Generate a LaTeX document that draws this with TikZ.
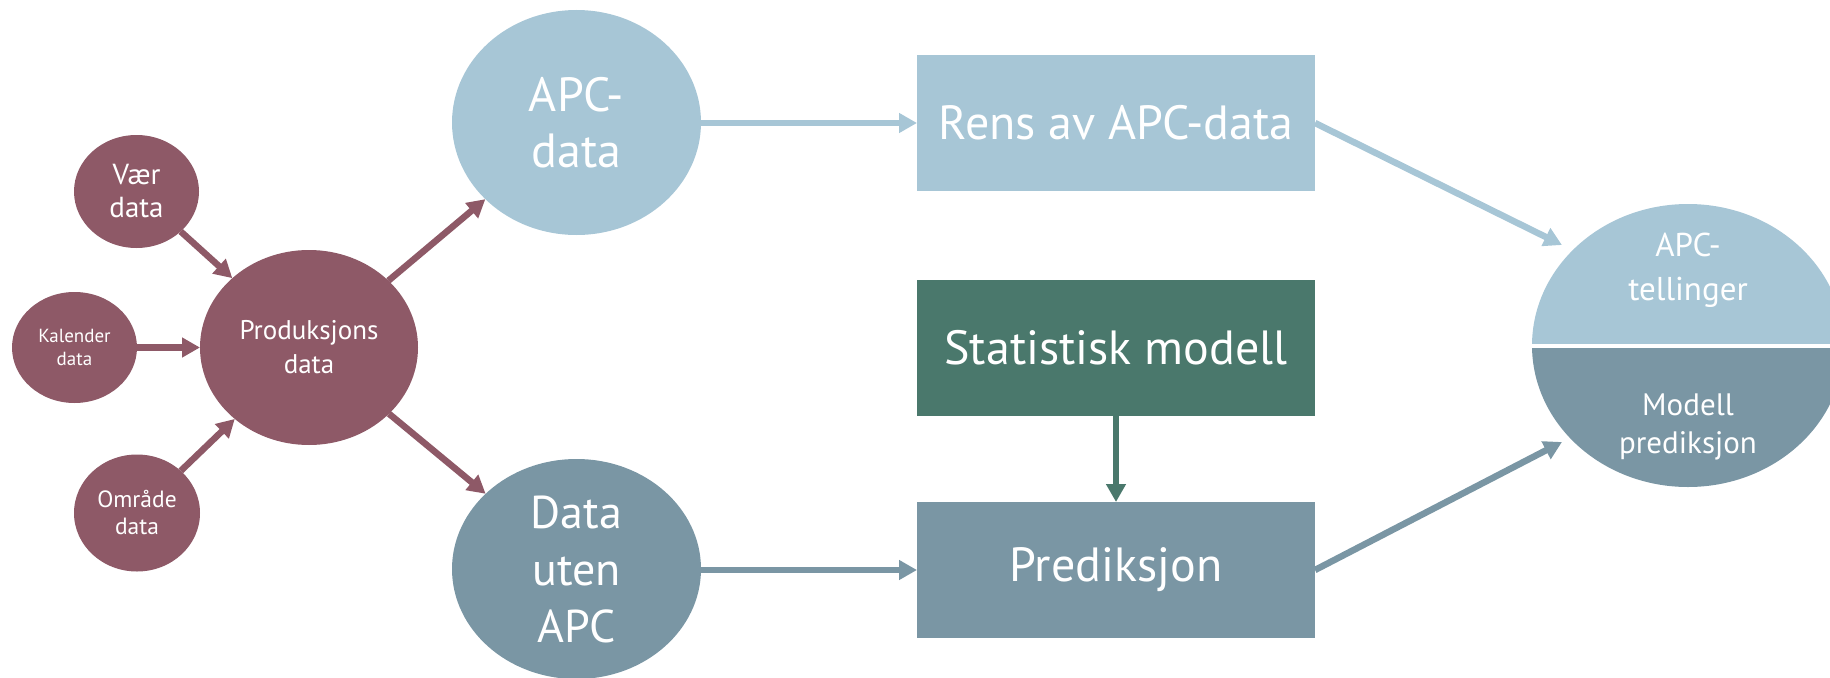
\documentclass[tikz,border=0pt]{standalone}
\usepackage{fontspec}
\setmainfont{PT Sans}
\usetikzlibrary{shapes.geometric,arrows.meta}
\definecolor{maroon}{HTML}{8E5967}
\definecolor{lblue}{HTML}{A7C6D6}
\definecolor{slate}{HTML}{7A96A4}
\definecolor{sgreen}{HTML}{4A786C}
\newcommand{\fsz}[2]{\fontsize{#1}{#2}\selectfont}
\begin{document}
\begin{tikzpicture}[x=1pt,y=-1pt,
  every node/.style={text=white, align=center, inner sep=0pt, outer sep=0pt},
  blob/.style={ellipse, fill=#1},
  boxnode/.style={rectangle, fill=#1, minimum width=398pt, minimum height=136pt, font=\fsz{48}{56}},
  conn/.style={draw=#1, line width=6.5pt, -{Triangle[length=18pt,width=19pt]}}]
\useasboundingbox (0,0) rectangle (1830,677);
\clip (0,0) rectangle (1830,677);

% left inputs
\node[blob=maroon, minimum width=125pt, minimum height=113pt, font=\fsz{29}{33}] (vaer) at (136.5,191.5) {Vær\\data};
\node[blob=maroon, minimum width=125pt, minimum height=111pt, font=\fsz{19}{23}] (kal) at (74.5,347.5) {Kalender\\data};
\node[blob=maroon, minimum width=126pt, minimum height=117pt, font=\fsz{23.5}{27}] (omr) at (137,513) {Område\\data};
\node[blob=maroon, minimum width=218pt, minimum height=195pt, font=\fsz{27}{34}] (prod) at (309,347.5) {Produksjons\\data};

% middle ellipses
\node[blob=lblue, minimum width=249pt, minimum height=225pt, font=\fsz{48}{56}] (apc) at (576.5,122.5) {APC-\\data};
\node[blob=slate, minimum width=249pt, minimum height=220pt, font=\fsz{46}{57}] (uten) at (576.5,569) {Data\\uten\\APC};

% boxes
\node[boxnode=lblue] (rens) at (1116,123) {Rens av APC-data};
\node[boxnode=sgreen] (stat) at (1116,348) {Statistisk modell};
\node[boxnode=slate] (pred) at (1116,570) {Prediksjon};

% right split ellipse
\begin{scope}
\clip (1400,0) rectangle (1830,345.5);
\node[blob=lblue, minimum width=312pt, minimum height=283pt] (out) at (1688,345.5) {};
\end{scope}
\begin{scope}
\clip (1400,345.5) rectangle (1830,677);
\node[blob=slate, minimum width=312pt, minimum height=283pt] (outb) at (1688,345.5) {};
\end{scope}
\draw[white, line width=4pt] (out.west) -- (out.east);
\node[font=\fsz{33}{44}] (outt) at (1688,270) {APC-\\tellinger};
\node[font=\fsz{31}{38}] (outbt) at (1688,427) {Modell\\prediksjon};

\coordinate (in1) at (1562,245);
\coordinate (in2) at (1562,442);

% connectors
\draw[conn=maroon] (vaer) -- (prod);
\draw[conn=maroon] (kal) -- (prod);
\draw[conn=maroon] (omr) -- (prod);
\draw[conn=maroon] (prod) -- (apc);
\draw[conn=maroon] (prod) -- (uten);
\draw[conn=lblue] (apc.east |- rens.west) -- (rens.west);
\draw[conn=slate] (uten.east |- pred.west) -- (pred.west);
\draw[conn=sgreen] (stat.south) -- (pred.north);
\draw[conn=lblue] (rens.east) -- (in1);
\draw[conn=slate] (pred.east) -- (in2);
\end{tikzpicture}
\end{document}
